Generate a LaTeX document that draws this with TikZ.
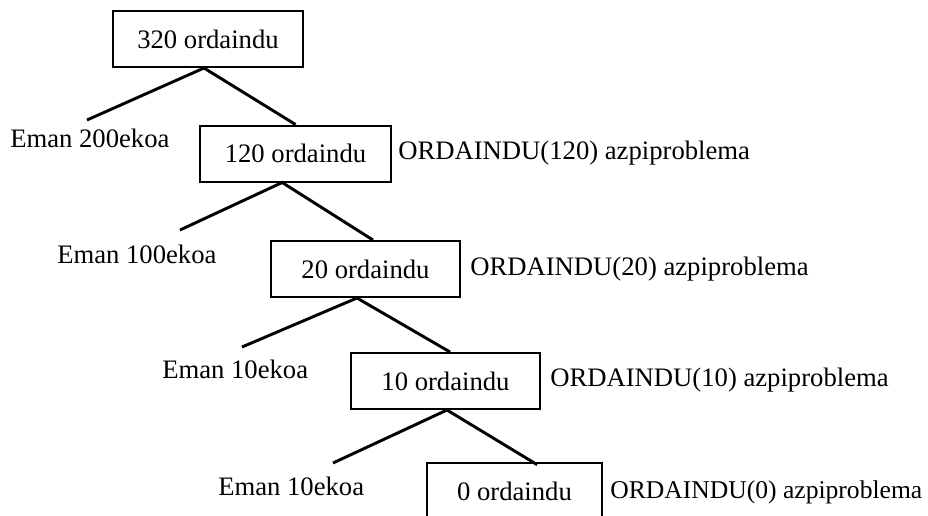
\documentclass[tikz,border=0pt]{standalone}
\usepackage{fontspec}
\setmainfont{Liberation Serif}

\begin{document}
\begin{tikzpicture}[x=0.75pt,y=-0.75pt,
  box/.style={draw,line width=1.5pt,minimum height=42pt,inner sep=0pt,font=\fontsize{20}{24}\selectfont},
  lbl/.style={anchor=west,inner sep=0pt,font=\fontsize{20}{24}\selectfont},
  edge/.style={line width=2.2pt}]
\useasboundingbox (0,0) rectangle (928,515);
% boxes
\node[box,minimum width=142.5pt] (b320) at (208,39) {320 ordaindu};
\node[box,minimum width=143.25pt] (b120) at (295.5,153.5) {120 ordaindu};
\node[box,minimum width=141.75pt] (b20) at (365.5,269) {20 ordaindu};
\node[box,minimum width=141.75pt] (b10) at (445.5,381) {10 ordaindu};
\node[box,minimum width=131.25pt] (b0) at (514.5,491) {0 ordaindu};
% labels
\node[lbl] (e200) at (10,138) {Eman 200ekoa};
\node[lbl] (e100) at (57,254) {Eman 100ekoa};
\node[lbl] (e10a) at (162,369) {Eman 10ekoa};
\node[lbl] (e10b) at (218,486) {Eman 10ekoa};
\node[lbl] (p120) at (398,153) {ORDAINDU(120) azpiproblema};
\node[lbl] (p20) at (470,269) {ORDAINDU(20) azpiproblema};
\node[lbl] (p10) at (550,380) {ORDAINDU(10) azpiproblema};
\node[lbl,font=\fontsize{19.2}{24}\selectfont] (p0) at (610,492) {ORDAINDU(0) azpiproblema};
% free ends of the left branches
\coordinate (l1) at (87,120);
\coordinate (l2) at (180,230);
\coordinate (l3) at (242,347);
\coordinate (l4) at (333,463);
% branches
\draw[edge] (l1) -- ([xshift=-3pt]b320.south) -- (b120.north);
\draw[edge] (l2) -- ([xshift=-10pt]b120.south) -- ([xshift=5.6pt]b20.north);
\draw[edge] (l3) -- ([xshift=-6.4pt]b20.south) -- ([xshift=3.4pt]b10.north);
\draw[edge] (l4) -- ([xshift=1.1pt]b10.south) -- ([xshift=17pt,yshift=-2pt]b0.north);
\end{tikzpicture}
\end{document}
